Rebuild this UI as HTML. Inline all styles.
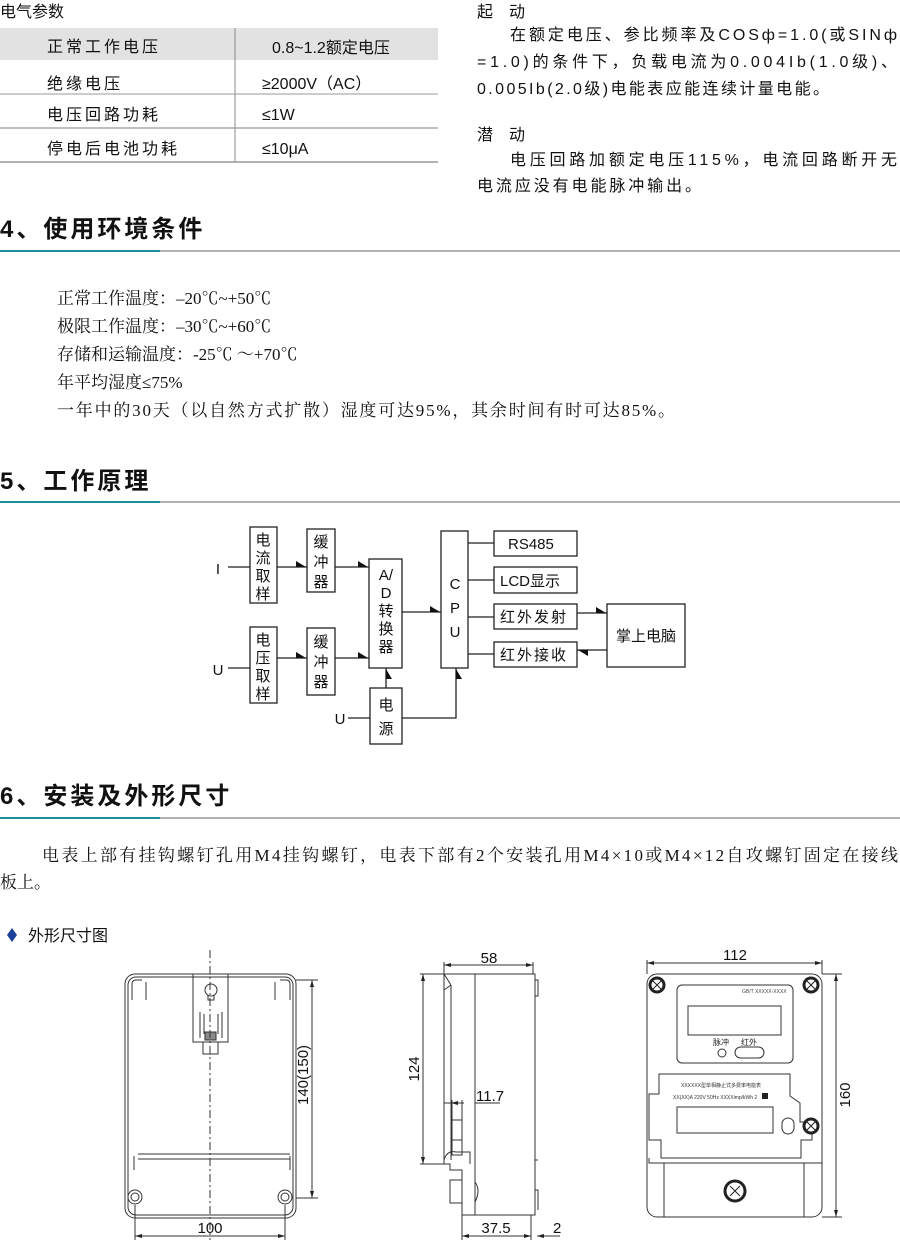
<!DOCTYPE html>
<html><head><meta charset="utf-8"><style>
html,body{margin:0;padding:0;background:#fff;}
svg{display:block;font-family:"Liberation Sans","Noto Sans CJK SC",sans-serif;}
.t{font-size:16px;fill:#111;}
.h{font-size:24px;font-weight:bold;fill:#111;}
.s{font-family:"Liberation Serif","Noto Serif CJK SC",serif;font-size:17px;fill:#111;}
.b{fill:#fff;stroke:#222;stroke-width:1.3;}
.ln{stroke:#222;stroke-width:1.3;fill:none;}
.d{stroke:#333;stroke-width:1;fill:none;}
.bl{font-size:15px;fill:#111;}
</style></head><body>
<svg width="900" height="1242" viewBox="0 0 900 1242">
<!-- table -->
<text x="0" y="17" class="t" font-size="15">电气参数</text>
<rect x="0" y="28" width="438" height="32" fill="#e2e2e2"/>
<line x1="235" y1="28" x2="235" y2="162" stroke="#888" stroke-width="1"/>
<line x1="0" y1="94" x2="438" y2="94" stroke="#999" stroke-width="1"/>
<line x1="0" y1="128" x2="438" y2="128" stroke="#999" stroke-width="1.3"/>
<line x1="0" y1="162" x2="438" y2="162" stroke="#999" stroke-width="1.5"/>
<text x="47" y="52" class="t" font-size="17" letter-spacing="3">正常工作电压</text>
<text x="272" y="53" class="t" font-size="17">0.8~1.2额定电压</text>
<text x="47" y="89" class="t" font-size="17" letter-spacing="3">绝缘电压</text>
<text x="262" y="89" class="t" font-size="17">≥2000V（AC）</text>
<text x="47" y="120" class="t" font-size="17" letter-spacing="3">电压回路功耗</text>
<text x="262" y="120" class="t" font-size="17">≤1W</text>
<text x="47" y="154" class="t" font-size="17" letter-spacing="3">停电后电池功耗</text>
<text x="262" y="154" class="t" font-size="17">≤10μA</text>
<!-- right column -->
<text x="477" y="17" class="t">起　动</text>
<text x="510" y="40" class="t" textLength="387" lengthAdjust="spacing">在额定电压、参比频率及COSф=1.0(或SINф</text>
<text x="477" y="67" class="t" textLength="420" lengthAdjust="spacing">=1.0)的条件下，负载电流为0.004Ib(1.0级)、</text>
<text x="477" y="94" class="t" textLength="352" lengthAdjust="spacing">0.005Ib(2.0级)电能表应能连续计量电能。</text>
<text x="477" y="140" class="t">潜　动</text>
<text x="510" y="165" class="t" textLength="387" lengthAdjust="spacing">电压回路加额定电压115%，电流回路断开无</text>
<text x="477" y="191" class="t" textLength="224" lengthAdjust="spacing">电流应没有电能脉冲输出。</text>
<!-- section 4 -->
<text x="0" y="237" class="h" letter-spacing="3">4、使用环境条件</text>
<line x1="0" y1="251" x2="160" y2="251" stroke="#1e8e9c" stroke-width="2"/>
<line x1="160" y1="251" x2="900" y2="251" stroke="#999" stroke-width="1.5"/>
<text x="57" y="304" class="s">正常工作温度：–20℃~+50℃</text>
<text x="57" y="332" class="s">极限工作温度：–30℃~+60℃</text>
<text x="57" y="360" class="s">存储和运输温度：-25℃ ～+70℃</text>
<text x="57" y="388" class="s">年平均湿度≤75%</text>
<text x="57" y="416" class="s" textLength="618" lengthAdjust="spacing">一年中的30天（以自然方式扩散）湿度可达95%，其余时间有时可达85%。</text>
<!-- section 5 -->
<text x="0" y="489" class="h" letter-spacing="3">5、工作原理</text>
<line x1="0" y1="502" x2="160" y2="502" stroke="#1e8e9c" stroke-width="2"/>
<line x1="160" y1="502" x2="900" y2="502" stroke="#999" stroke-width="1.5"/>
<!-- block diagram -->
<g>
<rect x="250" y="527" width="27" height="76" class="b"/>
<rect x="307" y="529" width="28" height="63" class="b"/>
<rect x="250" y="627" width="27" height="76" class="b"/>
<rect x="307" y="628" width="28" height="67" class="b"/>
<rect x="369" y="559" width="33" height="109" class="b"/>
<rect x="441" y="531" width="27" height="137" class="b"/>
<rect x="494" y="531" width="83" height="25" class="b"/>
<rect x="494" y="567" width="83" height="26" class="b"/>
<rect x="494" y="604" width="83" height="25" class="b"/>
<rect x="494" y="642" width="83" height="25" class="b"/>
<rect x="607" y="604" width="78" height="63" class="b"/>
<rect x="370" y="688" width="32" height="56" class="b"/>
<g class="bl" text-anchor="middle">
<text x="263" y="545">电</text><text x="263" y="563">流</text><text x="263" y="581">取</text><text x="263" y="599">样</text>
<text x="263" y="645">电</text><text x="263" y="663">压</text><text x="263" y="681">取</text><text x="263" y="699">样</text>
<text x="321" y="547">缓</text><text x="321" y="567">冲</text><text x="321" y="587">器</text>
<text x="321" y="647">缓</text><text x="321" y="667">冲</text><text x="321" y="687">器</text>
<text x="386" y="580">A/</text><text x="386" y="598">D</text><text x="386" y="616">转</text><text x="386" y="634">换</text><text x="386" y="652">器</text>
<text x="455" y="589">C</text><text x="455" y="613">P</text><text x="455" y="637">U</text>
<text x="386" y="710">电</text><text x="386" y="734">源</text>
<text x="646" y="641">掌上电脑</text>
<text x="218" y="574">I</text><text x="218" y="675">U</text><text x="340" y="724">U</text>
</g>
<g class="bl">
<text x="508" y="549">RS485</text>
<text x="500" y="586">LCD显示</text>
<text x="500" y="622" letter-spacing="2">红外发射</text>
<text x="500" y="660" letter-spacing="2">红外接收</text>
</g>
<g class="ln">
<path d="M228 567H250M228 668H250M348 718H370"/>
<path d="M277 567H307M335 567H369M277 658H307M335 658H369M402 612H441"/>
<path d="M468 543H494M468 580H494M468 617H494M468 654H494"/>
<path d="M577 613H607M607 650H577"/>
<path d="M386 688V668M402 718H456V668"/>
</g>
<g fill="#111">
<path d="M296 561L306 567H296Z"/><path d="M358 561L368 567H358Z"/>
<path d="M296 652L306 658H296Z"/><path d="M358 652L368 658H358Z"/>
<path d="M430 606L440 612H430Z"/><path d="M596 607L606 613H596Z"/>
<path d="M588 650L578 650L588 656Z"/>
<path d="M386 669L392 679H386Z"/><path d="M456 669L462 679H456Z"/>
</g>
</g>
<!-- section 6 -->
<text x="0" y="804" class="h" letter-spacing="3">6、安装及外形尺寸</text>
<line x1="0" y1="818" x2="160" y2="818" stroke="#1e8e9c" stroke-width="2"/>
<line x1="160" y1="818" x2="900" y2="818" stroke="#999" stroke-width="1.5"/>
<text x="42" y="861" class="s" textLength="856" lengthAdjust="spacing">电表上部有挂钩螺钉孔用M4挂钩螺钉，电表下部有2个安装孔用M4×10或M4×12自攻螺钉固定在接线</text>
<text x="0" y="888" class="s">板上。</text>
<path d="M12 928L17 935L12 942L7 935Z" fill="#1c3f99"/>
<text x="28" y="941" class="t">外形尺寸图</text>
<!-- back view -->
<g class="d">
<rect x="125" y="974" width="171" height="244" rx="10"/>
<rect x="128" y="977" width="165" height="238" rx="8"/>
<rect x="193" y="974" width="35" height="68"/>
<circle cx="211" cy="990" r="6"/><path d="M208 995V1000H214V995"/>
<path d="M200 1012V1038M222 1012V1038M204 1014V1034M218 1014V1034"/>
<rect x="203" y="1042" width="15" height="12"/>
<rect x="205" y="1032" width="11" height="8" fill="#888"/>
<path d="M132 1000V984Q132 980 136 980H142M146 982V1000"/>
<path d="M290 1000V984Q290 980 286 980H280M275 982V1000"/>
<path d="M138 1154H290M138 1159H290M134 1156V1170M290 1156V1170"/>
<circle cx="135" cy="1197" r="7"/><circle cx="135" cy="1197" r="4"/>
<circle cx="285" cy="1197" r="7"/><circle cx="285" cy="1197" r="4"/>
<path d="M210 950V1240" stroke-dasharray="8 3 2 3"/>
<path d="M135 1205V1240M285 1205V1240M135 1236H285"/>
<path d="M296 980H318M296 1198H318M312 980V1198"/>
</g>
<g fill="#222"><path d="M135 1236l7-2v4z"/><path d="M285 1236l-7-2v4z"/><path d="M312 980l-2 7h4z"/><path d="M312 1198l-2-7h4z"/></g>
<text x="210" y="1233" class="bl" text-anchor="middle" font-size="13">100</text>
<text transform="translate(308 1075) rotate(-90)" class="bl" text-anchor="middle" font-size="13">140(150)</text>
<!-- side view -->
<g class="d">
<path d="M444 974H535V1215H462V1170H450V1164H444Z"/>
<path d="M451 985V1160M475 974V1215"/>
<path d="M444 974L451 985M444 990L451 985"/>
<path d="M535 980H538V996H535M535 1160H538M535 1190H538V1210"/>
<path d="M452 1100V1155H462V1100M452 1120H462M452 1140H462"/>
<path d="M444 1160Q447 1150 456 1152H470V1164"/>
<rect x="450" y="1180" width="12" height="23"/>
<path d="M475 1182Q481 1190 475 1202"/>
<path d="M444 962V974M533 962V974M444 965H533"/>
<path d="M420 974H444M420 1164H444M423 974V1164"/>
<path d="M444 1103H464M475 1103H500"/>
<path d="M462 1215V1240M531 1215V1240M462 1236H531M537 1236H560"/>
</g>
<g fill="#222"><path d="M444 965l7-2v4z"/><path d="M533 965l-7-2v4z"/><path d="M423 974l-2 7h4z"/><path d="M423 1164l-2-7h4z"/><path d="M462 1236l7-2v4z"/><path d="M531 1236l-7-2v4z"/><path d="M537 1236l7-2v4z"/><path d="M451 1103l7-2v4z"/></g>
<text x="489" y="963" class="bl" text-anchor="middle" font-size="13">58</text>
<text transform="translate(419 1069) rotate(-90)" class="bl" text-anchor="middle" font-size="13">124</text>
<text x="476" y="1101" class="bl" font-size="10">11.7</text>
<text x="496" y="1233" class="bl" text-anchor="middle" font-size="13">37.5</text>
<text x="553" y="1233" class="bl" font-size="16">2</text>
<!-- front view -->
<g class="d">
<rect x="647" y="974" width="175" height="243" rx="10"/>
<path d="M649 1158V1163H822M664 1163V1217M804 1163V1217"/>
<rect x="677" y="985" width="116" height="78" rx="5"/>
<rect x="688" y="1006" width="93" height="29"/>
<circle cx="722" cy="1053" r="4"/>
<rect x="735" y="1047" width="29" height="11" rx="5.5"/>
<path d="M659 1074H790V1096L800 1103V1122H812V1140H801V1158H661V1140H649V1094H659Z"/>
<rect x="677" y="1107" width="96" height="26"/>
<rect x="782" y="1118" width="12" height="16" rx="6"/>
<path d="M647 963H822M647 960V974M822 960V974"/>
<path d="M822 974H842M822 1217H842M836 974V1217"/>
</g>
<g fill="#222"><path d="M647 963l7-2v4z"/><path d="M822 963l-7-2v4z"/><path d="M836 974l-2 7h4z"/><path d="M836 1217l-2-7h4z"/></g>
<g stroke="#222" stroke-width="3" fill="#fff">
<circle cx="657" cy="985" r="7"/><circle cx="811" cy="985" r="7"/><circle cx="811" cy="1126" r="7"/><circle cx="735" cy="1191" r="10"/>
</g>
<g stroke="#222" stroke-width="1"><path d="M653 981l8 8M653 989l8-8M807 981l8 8M807 989l8-8M807 1122l8 8M807 1130l8-8M730 1186l10 10M730 1196l10-10"/></g>
<text x="735" y="960" class="bl" text-anchor="middle" font-size="13">112</text>
<text transform="translate(850 1095) rotate(-90)" class="bl" text-anchor="middle" font-size="13">160</text>
<text x="742" y="993" font-size="5" fill="#444">GB/T XXXXX-XXXX</text>
<text x="713" y="1045" font-size="8" fill="#222">脉冲</text>
<text x="741" y="1045" font-size="8" fill="#222">红外</text>
<text x="681" y="1087" font-size="5" fill="#333">XXXXXX型单相静止式多费率电能表</text>
<text x="673" y="1099" font-size="5" fill="#333">XX(XX)A 220V 50Hz XXXXimp/kWh 2</text>
<rect x="762" y="1093" width="6" height="6" fill="#222"/>
</svg>
</body></html>
